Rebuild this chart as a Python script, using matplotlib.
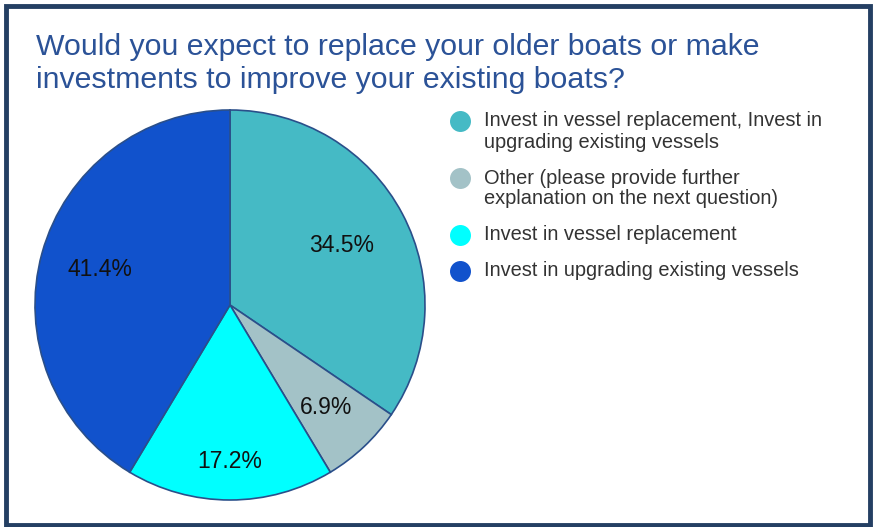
import matplotlib
matplotlib.use("Agg")
import matplotlib.pyplot as plt
from matplotlib.patches import Rectangle
import numpy as np

plt.rcParams['font.family'] = ['Liberation Sans', 'DejaVu Sans']

title_lines = ["Would you expect to replace your older boats or make",
               "investments to improve your existing boats?"]
labels = [
    "Invest in vessel replacement, Invest in\nupgrading existing vessels",
    "Other (please provide further\nexplanation on the next question)",
    "Invest in vessel replacement",
    "Invest in upgrading existing vessels",
]
values = [34.5, 6.9, 17.2, 41.4]
colors = ["#45BAC5", "#A3C2C7", "#00FFFF", "#1152CC"]
label_dist = [0.65, 0.72, 0.80, 0.69]

W, H = 874, 527
fig = plt.figure(figsize=(W / 100, H / 100), dpi=100)
ax = fig.add_axes([0, 0, 1, 1])
ax.set_xlim(0, W)
ax.set_ylim(0, H)
ax.set_aspect('equal')
ax.axis('off')

# frame
fig.patches.append(Rectangle((5.5 / W, 2 / H), (W - 10) / W, (H - 7.5) / H,
                             transform=fig.transFigure, fill=False,
                             edgecolor="#243F63", linewidth=3.5))

for i, t in enumerate(title_lines):
    ax.text(36, H - (55 + 33 * i), t, color="#2B5297", fontsize=21.8,
            ha='left', va='baseline')

cx, cy, r = 230, H - 305, 195
wedges, _ = ax.pie(values, colors=colors, startangle=90, counterclock=False,
                   center=(cx, cy), radius=r,
                   wedgeprops=dict(edgecolor="#2A4F8A", linewidth=1.2))
ax.set_xlim(0, W)
ax.set_ylim(0, H)

for w, v, d in zip(wedges, values, label_dist):
    ang = np.deg2rad((w.theta1 + w.theta2) / 2)
    ax.text(cx + d * r * np.cos(ang), cy + d * r * np.sin(ang), f"{v}%",
            ha='center', va='center', fontsize=16.5, color="#111111")

# legend
y = 121.5
for lab, col in zip(labels, colors):
    lines = lab.split("\n")
    ax.scatter([460.5], [H - y], s=228, color=col, edgecolor='none', zorder=5)
    for j, ln in enumerate(lines):
        ax.text(484, H - (y + 5 + 21 * j), ln, fontsize=14.4, color="#333333",
                ha='left', va='baseline')
    y += 21 * len(lines) + 15

fig.savefig("out.png", dpi=100)
